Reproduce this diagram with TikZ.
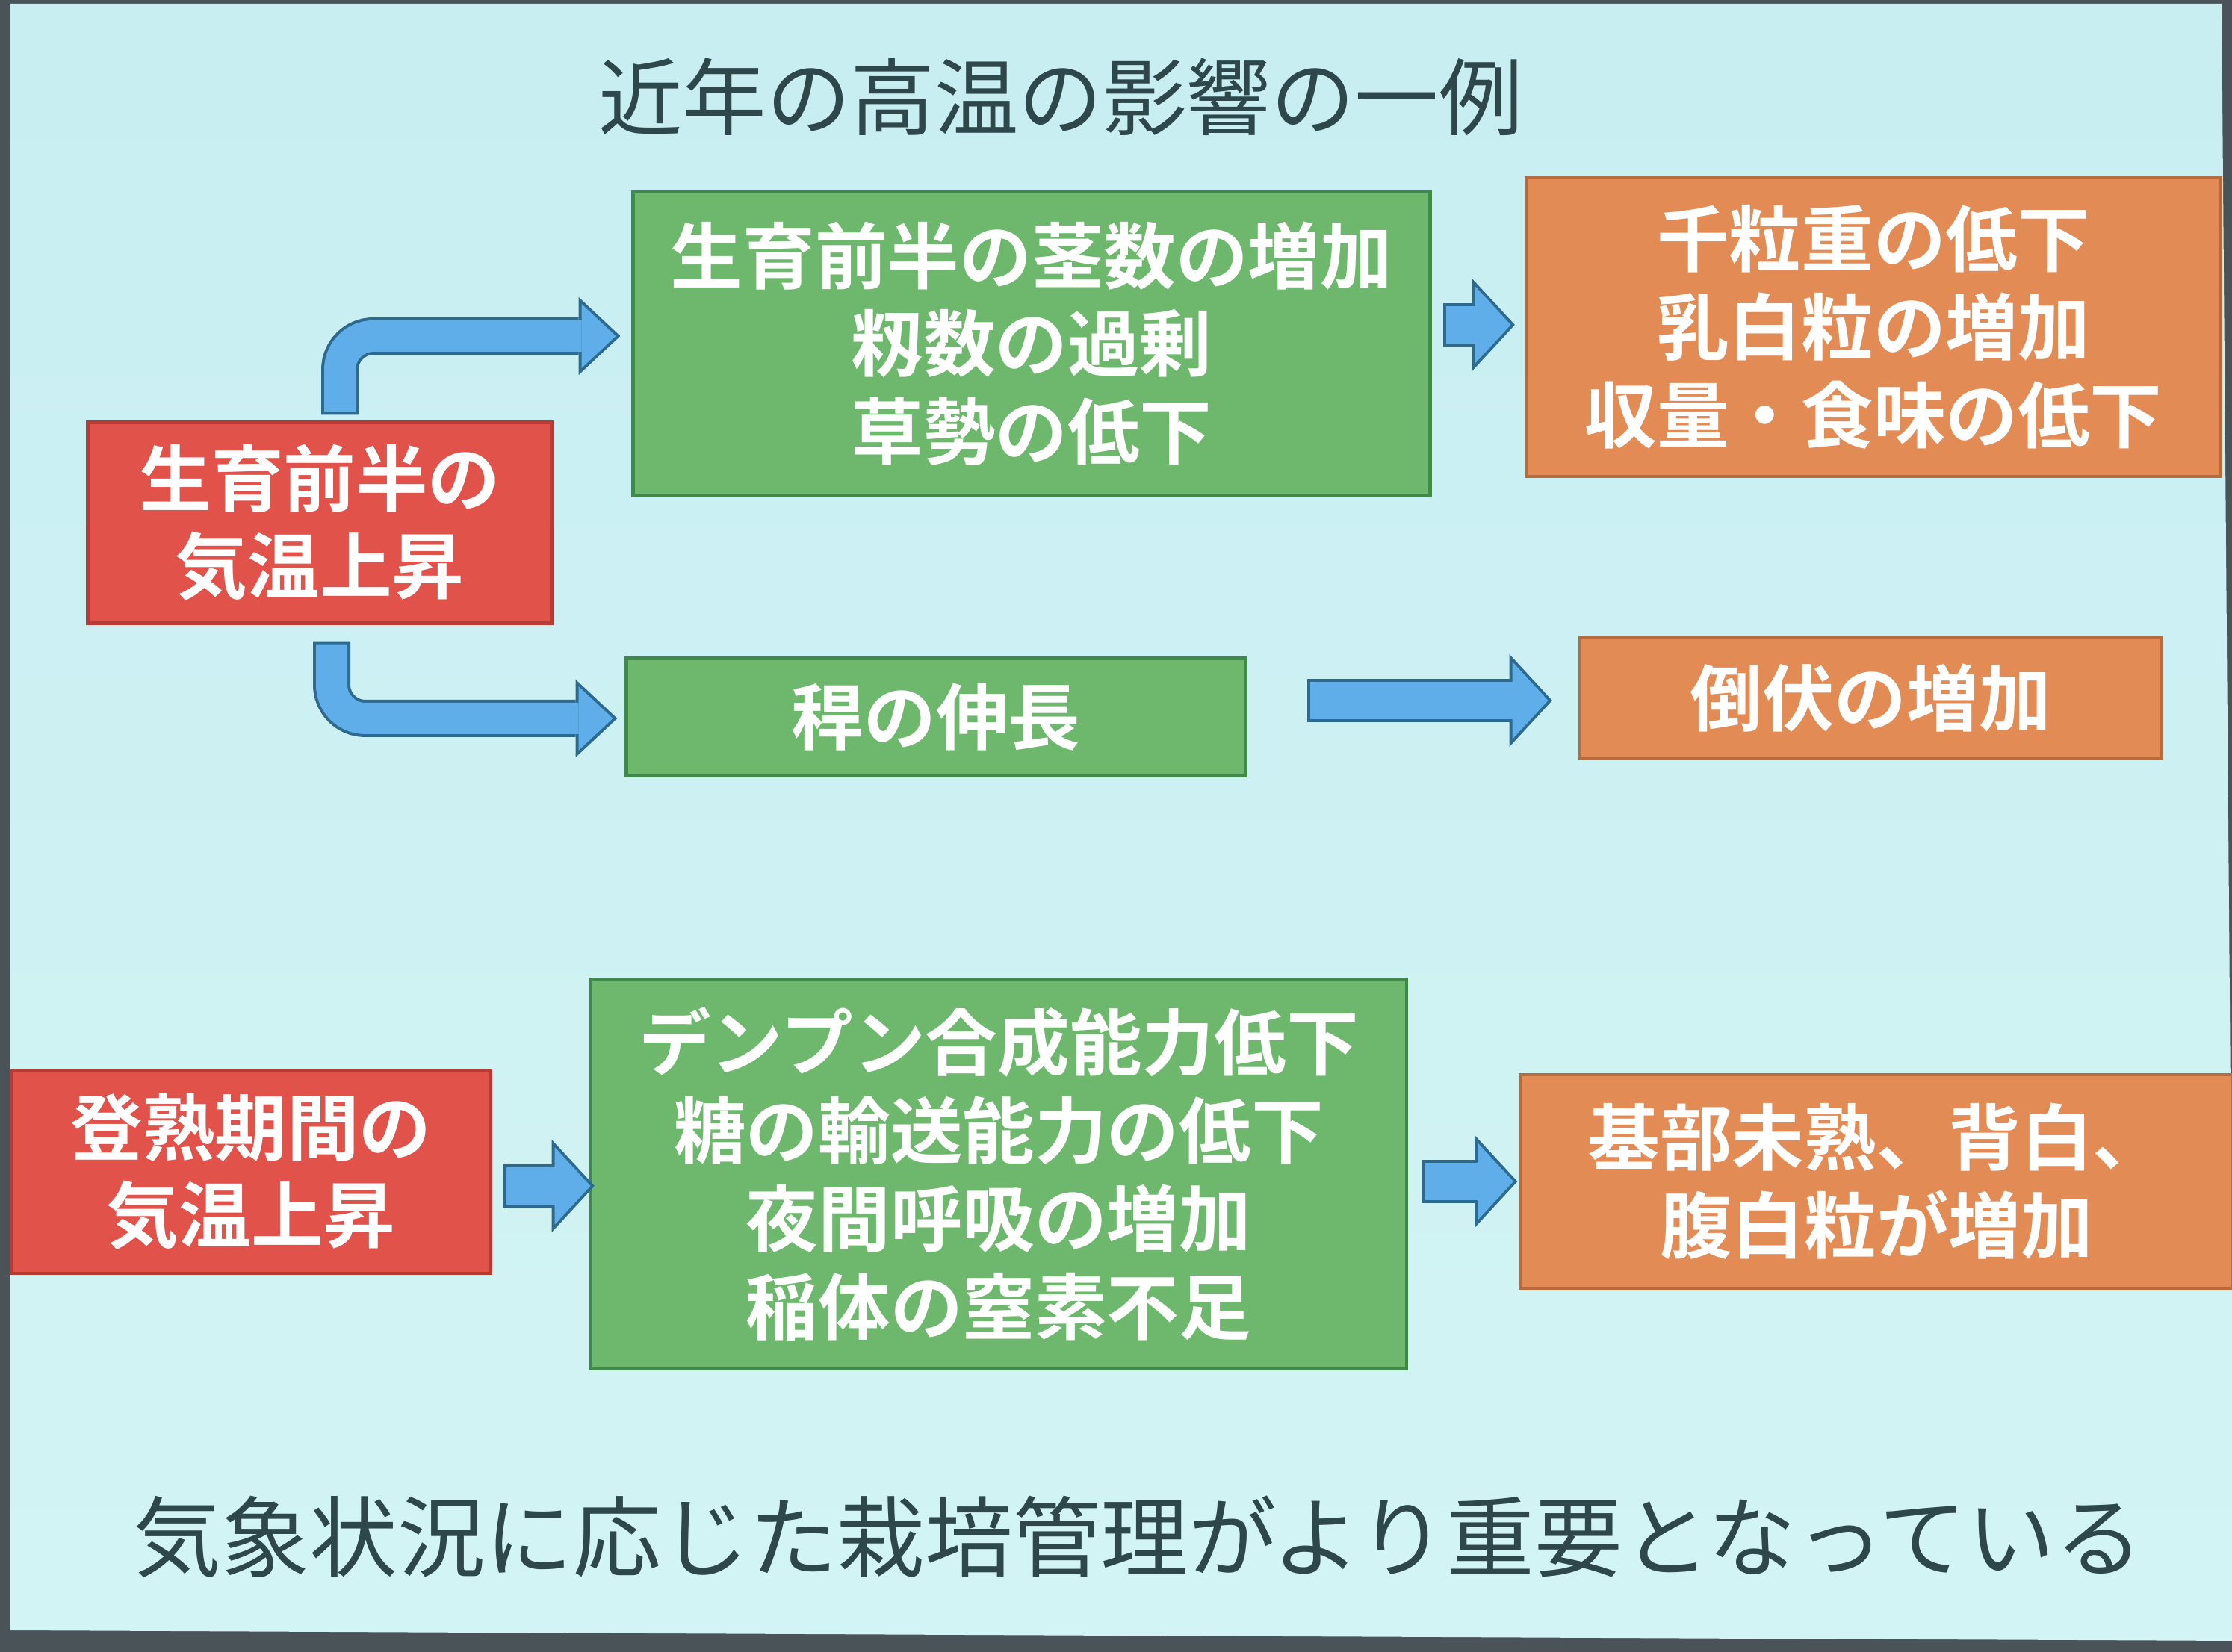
\documentclass[tikz,border=0pt]{standalone}
\usepackage{fontspec}
\setmainfont{Noto Sans CJK JP}[BoldFont={Noto Sans CJK JP Bold}]
\usepackage{xcolor}
\usepackage{tikz}
\usetikzlibrary{arrows.meta, positioning, calc}

\definecolor{slidebg}{HTML}{C8EEF2}
\definecolor{slidebgb}{HTML}{D3F4F4}
\definecolor{frame}{HTML}{4A5358}
\definecolor{boxgreen}{HTML}{6EB86E}
\definecolor{linegreen}{HTML}{3F8A4A}
\definecolor{boxred}{HTML}{E0524A}
\definecolor{linered}{HTML}{B83A34}
\definecolor{boxorange}{HTML}{E38B55}
\definecolor{lineorange}{HTML}{B86A3A}
\definecolor{arrowblue}{HTML}{5FAEEA}
\definecolor{arrowline}{HTML}{2D6A8E}
\definecolor{darktext}{HTML}{2E474B}

\begin{document}
\begin{tikzpicture}[
  box/.style={line width=1.2pt, inner sep=0pt, align=center, text=white,
    font=\bfseries\fontsize{27.5}{33.5}\selectfont},
  redbox/.style={box, draw=linered, fill=boxred},
  greenbox/.style={box, draw=linegreen, fill=boxgreen},
  orangebox/.style={box, draw=lineorange, fill=boxorange},
  fatedge/.style={draw=arrowline, line width=0.58cm,
    -{Triangle[length=0.574cm, width=1.243cm, line width=0pt]},
    postaction={draw=arrowblue, line width=0.5cm,
      -{Triangle[length=0.48cm, width=1.04cm, line width=0pt]},
      shorten >=0.054cm, shorten <=0.04cm}},
  bendedge/.style={draw=arrowline, line width=0.5cm, rounded corners=0.45cm,
    -{Triangle[length=0.559cm, width=1.045cm, line width=0pt]},
    postaction={draw=arrowblue, line width=0.42cm,
      -{Triangle[length=0.46cm, width=0.86cm, line width=0pt]},
      shorten >=0.059cm, shorten <=0.04cm}}
]
\useasboundingbox (0,0) rectangle (29.88,22.12);
% screen
\fill[frame] (0,0) rectangle (29.88,22.12);
\shade[top color=slidebg, bottom color=slidebgb]
  (0.13,22.07) -- (29.74,22.07) -- (29.92,0.15) -- (0.13,0.29) -- cycle;

\node[text=darktext, font=\fontsize{32}{38}\selectfont] (title) at (14.20,20.82) {近年の高温の影響の一例};

% early growth
\node[redbox, minimum width=6.21cm, minimum height=2.69cm] (r1) at (4.28,15.12) {生育前半の\\気温上昇};
\node[greenbox, minimum width=10.67cm, minimum height=4.06cm] (g1) at (13.81,17.52) {生育前半の茎数の増加\\籾数の過剰\\草勢の低下};
\node[orangebox, minimum width=9.30cm, minimum height=4.00cm] (o1) at (25.08,17.74) {千粒重の低下\\乳白粒の増加\\収量・食味の低下};
\node[greenbox, minimum width=8.29cm, minimum height=1.57cm] (g2) at (12.53,12.52) {稈の伸長};
\node[orangebox, minimum width=7.78cm, minimum height=1.62cm] (o2) at (25.04,12.77) {倒伏の増加};

% ripening
\node[redbox, minimum width=6.42cm, minimum height=2.72cm] (r2) at (3.36,6.43) {登熟期間の\\気温上昇};
\node[greenbox, minimum width=10.92cm, minimum height=5.22cm] (g3) at (13.37,6.40) {デンプン合成能力低下\\糖の輸送能力の低下\\夜間呼吸の増加\\稲体の窒素不足};
\node[orangebox, minimum width=9.53cm, minimum height=2.86cm] (o3) at (25.12,6.30) {基部未熟、背白、\\腹白粒が増加};

\node[text=darktext, font=\fontsize{33.5}{40}\selectfont] (note) at (15.24,1.54) {気象状況に応じた栽培管理がより重要となっている};

\draw[bendedge] ($(r1.north)+(0.27,0.08)$) |- ($(g1.west)+(-0.15,0.10)$);
\draw[bendedge] ($(r1.south)+(0.16,-0.22)$) |- ($(g2.west)+(-0.10,-0.02)$);
\draw[fatedge] ($(g1.east |- o1.west)+(0.15,0.03)$) -- ($(o1.west)+(-0.13,0.03)$);
\draw[fatedge] ($(g2.east |- o2.west)+(0.80,-0.03)$) -- ($(o2.west)+(-0.35,-0.03)$);
\draw[fatedge] ($(r2.east)+(0.15,-0.19)$) -- ($(r2.east -| g3.west)+(0.07,-0.19)$);
\draw[fatedge] ($(g3.east |- o3.west)+(0.19,0)$) -- ($(o3.west)+(-0.02,0)$);
\end{tikzpicture}
\end{document}
